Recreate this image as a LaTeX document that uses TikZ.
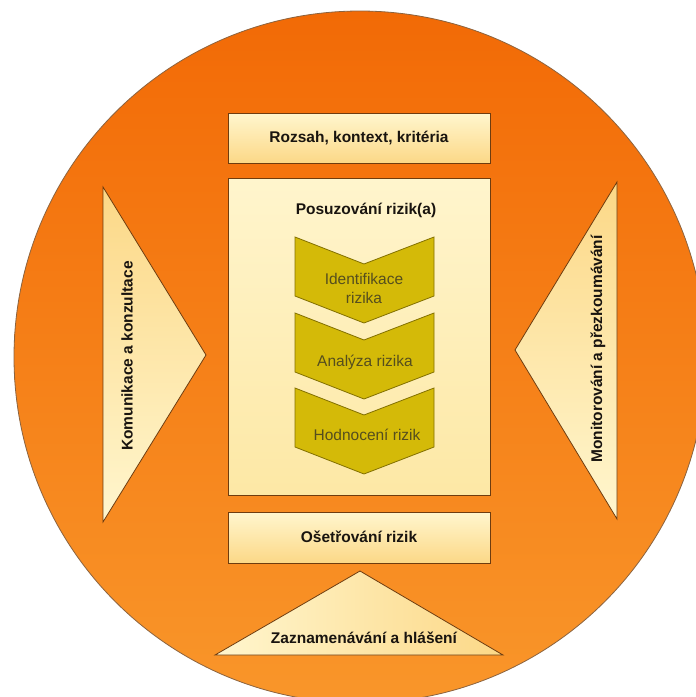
\documentclass[tikz,border=0pt]{standalone}
\usepackage{fontspec}
\setmainfont{Liberation Sans}
\definecolor{orTop}{RGB}{242,106,6}
\definecolor{orBot}{RGB}{249,150,42}
\definecolor{edgeBrown}{RGB}{110,60,15}
\definecolor{paleTop}{RGB}{255,246,206}
\definecolor{paleBot}{RGB}{252,216,135}
\definecolor{bigTop}{RGB}{255,245,205}
\definecolor{bigBot}{RGB}{253,232,165}
\definecolor{chevFill}{RGB}{212,186,8}
\definecolor{chevEdge}{RGB}{130,112,0}
\definecolor{chevText}{RGB}{85,78,30}
\definecolor{labText}{RGB}{25,20,15}
\begin{document}
\begin{tikzpicture}[x=1pt,y=-1pt,
  boxstyle/.style={draw=edgeBrown,line width=0.8pt,top color=paleTop,bottom color=paleBot},
  bigstyle/.style={draw=edgeBrown,line width=0.8pt,top color=bigTop,bottom color=bigBot},
  tristyle/.style={draw=edgeBrown,line width=0.8pt,top color=paleBot,bottom color=paleTop},
  chevstyle/.style={draw=chevEdge,line width=0.8pt,fill=chevFill},
  boldlab/.style={font=\fontsize{15.5}{18}\selectfont\bfseries,text=labText,inner sep=0pt},
  chevlab/.style={font=\fontsize{15.5}{19}\selectfont,text=chevText,inner sep=0pt,align=center}]
\useasboundingbox (0,0) rectangle (696,697);
\clip (0,0) rectangle (696,697);
\fill[white] (0,0) rectangle (696,697);
% circle
\shade[top color=orTop,bottom color=orBot,draw=edgeBrown!80,line width=0.8pt] (360,357) circle[radius=346];
% boxes
\path[boxstyle] (228,113) rectangle (490,163);
\node[boldlab] (scope) at (359,138) {Rozsah, kontext, kritéria};
\path[bigstyle] (228,178) rectangle (490,495);
\node[boldlab] (assess) at (366,210) {Posuzování rizik(a)};
\path[boxstyle] (228,512) rectangle (490,563);
\node[boldlab] (treat) at (359,537) {Ošetřování rizik};
% chevrons
\foreach \dy in {0,76,151}{
  \path[chevstyle] (295,237+\dy) -- (364,264+\dy) -- (434,237+\dy) -- (434,296+\dy) -- (364,323+\dy) -- (295,296+\dy) -- cycle;
}
\node[chevlab] (ident) at (364,288) {Identifikace\\rizika};
\node[chevlab] (anal) at (365,362) {Analýza rizika};
\node[chevlab] (eval) at (367,435) {Hodnocení rizik};
% side triangles
\path[tristyle] (103,187) -- (206,355) -- (103,522) -- cycle;
\node[boldlab,rotate=90] (comm) at (127,356) {Komunikace a konzultace};
\path[tristyle] (617,182) -- (515,350) -- (617,519) -- cycle;
\node[boldlab,rotate=90] (mon) at (598,349) {Monitorování a přezkoumávání};
% bottom triangle
\path[draw=edgeBrown,line width=0.8pt,left color=paleTop,right color=paleBot] (360,571) -- (503,655) -- (215,655) -- cycle;
\node[boldlab] (rec) at (364,638) {Zaznamenávání a hlášení};
\end{tikzpicture}
\end{document}
